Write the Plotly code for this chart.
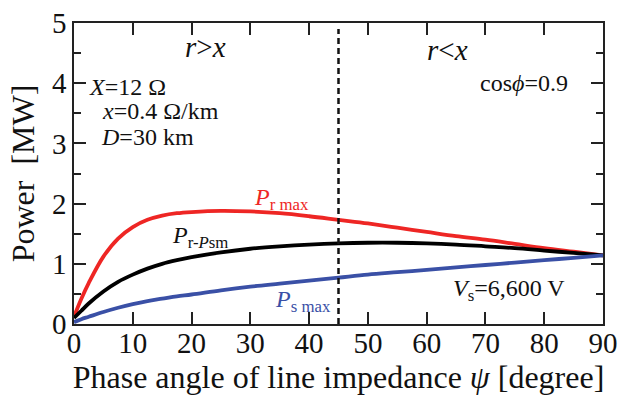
import plotly.graph_objects as go

psi = [0, 1.25, 2.5, 5, 7.5, 10, 12.5, 15, 17.5, 20, 25, 30, 35, 40, 45, 50, 55, 60, 65, 70, 75, 80, 85, 90]
p_r_max = [0.12, 0.42, 0.68, 1.12, 1.42, 1.61, 1.73, 1.80, 1.84, 1.86, 1.88, 1.87, 1.84, 1.79, 1.73, 1.67, 1.60,
           1.53, 1.46, 1.40, 1.33, 1.26, 1.20, 1.14]
p_r_psm = [0.10, 0.22, 0.34, 0.54, 0.70, 0.82, 0.92, 1.00, 1.06, 1.11, 1.19, 1.25, 1.29, 1.32, 1.34, 1.35, 1.35,
           1.34, 1.32, 1.29, 1.26, 1.22, 1.18, 1.14]
p_s_max = [0.03, 0.08, 0.12, 0.20, 0.27, 0.33, 0.38, 0.42, 0.46, 0.49, 0.56, 0.62, 0.67, 0.72, 0.77, 0.82, 0.86,
           0.90, 0.94, 0.98, 1.02, 1.06, 1.10, 1.14]
boundary_psi = 45
x_ticks = [0, 10, 20, 30, 40, 50, 60, 70, 80, 90]
y_ticks = [0, 1, 2, 3, 4, 5]

RED = "#ee2624"
BLUE = "#3a50a6"
FONT = '"Liberation Serif", "Times New Roman", Times, serif'

fig = go.Figure()
for y, c in [(p_r_max, RED), (p_r_psm, "#000000"), (p_s_max, BLUE)]:
    fig.add_trace(go.Scatter(x=psi, y=y, mode="lines", line=dict(color=c, width=3.8, shape="spline", smoothing=1.0),
                             showlegend=False, hoverinfo="skip"))

fig.add_trace(go.Scatter(x=[boundary_psi, boundary_psi], y=[0, 4.9], mode="lines",
                         line=dict(color="#111111", width=2.5, dash="6px,4px"), showlegend=False, hoverinfo="skip"))

ann = [
    (22.3, 4.6, "<i>r</i>&gt;<i>x</i>", "center", 29, "#111111"),
    (63.6, 4.55, "<i>r</i>&lt;<i>x</i>", "center", 29, "#111111"),
    (2.2, 3.94, "<i>X</i>=12 Ω", "left", 24, "#111111"),
    (4.5, 3.53, "<i>x</i>=0.4 Ω/km", "left", 24, "#111111"),
    (4.3, 3.1, "<i>D</i>=30 km", "left", 24, "#111111"),
    (68.8, 4.0, "cos<i>ϕ</i>=0.9", "left", 24, "#111111"),
    (30.2, 2.08, "<i>P</i><sub>r max</sub>", "left", 24, RED),
    (16.4, 1.45, "<i>P</i><sub>r-<i>P</i>sm</sub>", "left", 24, "#111111"),
    (33.9, 0.38, "<i>P</i><sub>s max</sub>", "left", 24, BLUE),
    (64.1, 0.56, "<i>V</i><sub>s</sub>=6,600 V", "left", 24, "#111111"),
]
for x, y, t, xa, s, c in ann:
    fig.add_annotation(x=x, y=y, text=t, showarrow=False, xanchor=xa, yanchor="middle",
                       font=dict(family=FONT, size=s, color=c))

axis_common = dict(showline=True, linecolor="#222222", linewidth=1.5, mirror="ticks",
                   ticks="inside", ticklen=12, tickwidth=1.5, tickcolor="#222222",
                   showgrid=False, zeroline=False, automargin=False,
                   tickfont=dict(family=FONT, size=29, color="#111111"))

fig.update_layout(
    width=620, height=401,
    margin=dict(l=74, r=17, t=23, b=77),
    paper_bgcolor="white", plot_bgcolor="white",
    font=dict(family=FONT),
    xaxis=dict(range=[0, 90], tickvals=x_ticks, ticktext=[str(v) for v in x_ticks], ticklabelstandoff=-8,
               title=dict(text="Phase angle of line impedance <i>ψ</i> [degree]", standoff=5,
                          font=dict(family=FONT, size=32, color="#111111")), **axis_common),
    yaxis=dict(range=[0, 5], tickvals=y_ticks, ticktext=[str(v) for v in y_ticks],
               minor=dict(ticks="inside", ticklen=7, tickwidth=1.5, tickcolor="#222222", dtick=0.5, showgrid=False),
               title=dict(text="Power  [MW]", standoff=8, font=dict(family=FONT, size=32, color="#111111")),
               **axis_common),
)

fig.write_html("out.html", config={"displayModeBar": False},
               post_script="document.body.style.margin='0';document.body.style.overflow='hidden';")
